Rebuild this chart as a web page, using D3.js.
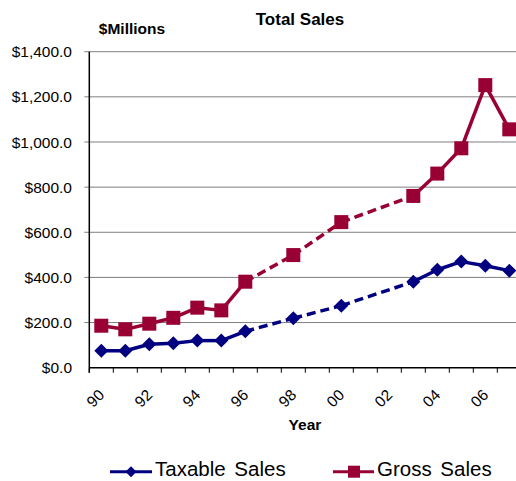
<!DOCTYPE html>
<html>
<head>
<meta charset="utf-8">
<script src="https://cdn.jsdelivr.net/npm/d3@7"></script>
<style>
  html, body { margin: 0; padding: 0; background: #fff; overflow: hidden; }
  svg { display: block; font-family: "Liberation Sans", Arial, sans-serif; }
</style>
</head>
<body>
<svg id="chart" width="516" height="481"></svg>
<script>
// Fiscal years (two-digit), one category per year
const years = ['90','91','92','93','94','95','96','97','98','99','00','01','02','03','04','05','06','07'];
// Sales in $ millions; null = no figure for that year
const taxableSales = [75, 75, 104, 108, 120, 120, 161, null, 219, null, 275, null, null, 381, 434, 470, 452, 430];
const grossSales   = [186, 170, 195, 221, 266, 254, 381, null, 499, null, 645, null, null, 761, 860, 972, 1252, 1056];
// Labelled years on the category axis
const yearLabels = ['90','92','94','96','98','00','02','04','06'];
// Value axis ticks
const valueTicks = [0, 200, 400, 600, 800, 1000, 1200, 1400];

const svg = d3.select('#chart');
const plotLeft = 89.3, plotRight = 521.3, plotTop = 51.7, plotBottom = 367.7;

const x = d3.scaleBand().domain(years).range([plotLeft, plotRight]).padding(0);
const y = d3.scaleLinear().domain([0, 1400]).range([plotBottom, plotTop]);
const fmt = d3.format('$,.1f');

// Horizontal gridlines with short ticks left of the axis
svg.append('g').selectAll('line').data(valueTicks).join('line')
  .attr('x1', plotLeft - 5).attr('x2', plotRight)
  .attr('y1', d => y(d)).attr('y2', d => y(d))
  .attr('stroke', d => d === 0 ? 'none' : '#7f7f7f')
  .attr('stroke-width', 1);

// Value labels
svg.append('g').selectAll('text').data(valueTicks).join('text')
  .attr('x', 72).attr('y', d => y(d))
  .attr('dy', '0.36em')
  .attr('text-anchor', 'end')
  .attr('font-size', 15.5)
  .attr('fill', '#000')
  .text(d => fmt(d));

// Category axis: tick marks on band boundaries
const boundaries = years.map(d => x(d)).concat([plotRight]);
svg.append('g').selectAll('line').data(boundaries).join('line')
  .attr('x1', d => d).attr('x2', d => d)
  .attr('y1', plotBottom).attr('y2', plotBottom + 5)
  .attr('stroke', '#000').attr('stroke-width', 1);

// Axis lines
svg.append('line').attr('x1', plotLeft).attr('x2', plotRight).attr('y1', plotBottom).attr('y2', plotBottom)
  .attr('stroke', '#000').attr('stroke-width', 1.5);
svg.append('line').attr('x1', plotLeft).attr('x2', plotLeft).attr('y1', plotTop).attr('y2', plotBottom + 5)
  .attr('stroke', '#000').attr('stroke-width', 1.5);

// Rotated year labels
svg.append('g').selectAll('text').data(yearLabels).join('text')
  .attr('transform', d => `translate(${x(d) + x.bandwidth() / 2 + 4},396) rotate(-45)`)
  .attr('text-anchor', 'end')
  .attr('font-size', 15.5)
  .attr('fill', '#000')
  .text(d => d);

// Titles
svg.append('text').attr('x', 300).attr('y', 25).attr('text-anchor', 'middle')
  .attr('font-size', 17).attr('font-weight', 'bold').text('Total Sales');
svg.append('text').attr('x', 132).attr('y', 34.3).attr('text-anchor', 'middle')
  .attr('font-size', 15.5).attr('font-weight', 'bold').text('$Millions');
svg.append('text').attr('x', 305).attr('y', 430).attr('text-anchor', 'middle')
  .attr('font-size', 15.5).attr('font-weight', 'bold').text('Year');

const cx = d => x(d) + x.bandwidth() / 2;

// Segments between consecutive reported years; dashed where years are skipped
function drawSeries(values, color) {
  const pts = years.map((yr, i) => ({ yr, i, v: values[i] })).filter(p => p.v != null);
  const g = svg.append('g');
  for (let k = 1; k < pts.length; k++) {
    const a = pts[k - 1], b = pts[k];
    g.append('line')
      .attr('x1', cx(a.yr)).attr('y1', y(a.v))
      .attr('x2', cx(b.yr)).attr('y2', y(b.v))
      .attr('stroke', color).attr('stroke-width', 3.5)
      .attr('stroke-linecap', 'butt')
      .attr('stroke-dasharray', b.i - a.i > 1 ? '9,5' : null);
  }
  return { g, pts };
}

const tax = drawSeries(taxableSales, '#000080');
const gro = drawSeries(grossSales, '#990033');

// Markers
const diamond = r => `M0,${-r}L${r},0L0,${r}L${-r},0Z`;
tax.g.selectAll('path.m').data(tax.pts).join('path')
  .attr('class', 'm')
  .attr('d', diamond(7))
  .attr('transform', p => `translate(${cx(p.yr)},${y(p.v)})`)
  .attr('fill', '#000080');
gro.g.selectAll('rect.m').data(gro.pts).join('rect')
  .attr('class', 'm')
  .attr('x', p => cx(p.yr) - 7).attr('y', p => y(p.v) - 7)
  .attr('width', 14).attr('height', 14)
  .attr('fill', '#990033');

// Legend
const legendY = 471.7;
const legend = svg.append('g');
legend.append('line').attr('x1', 110).attr('x2', 152).attr('y1', legendY).attr('y2', legendY)
  .attr('stroke', '#000080').attr('stroke-width', 3);
legend.append('path').attr('d', diamond(5.5)).attr('transform', `translate(131,${legendY})`).attr('fill', '#000080');
legend.append('text').attr('x', 155).attr('y', 476.3)
  .attr('font-size', 20.5).attr('word-spacing', 3).attr('fill', '#000').text('Taxable Sales');
legend.append('line').attr('x1', 333).attr('x2', 374).attr('y1', legendY).attr('y2', legendY)
  .attr('stroke', '#990033').attr('stroke-width', 3);
legend.append('rect').attr('x', 348).attr('y', legendY - 6).attr('width', 12).attr('height', 12).attr('fill', '#990033');
legend.append('text').attr('x', 377).attr('y', 476.3)
  .attr('font-size', 20.5).attr('word-spacing', 3).attr('fill', '#000').text('Gross Sales');
</script>
</body>
</html>
